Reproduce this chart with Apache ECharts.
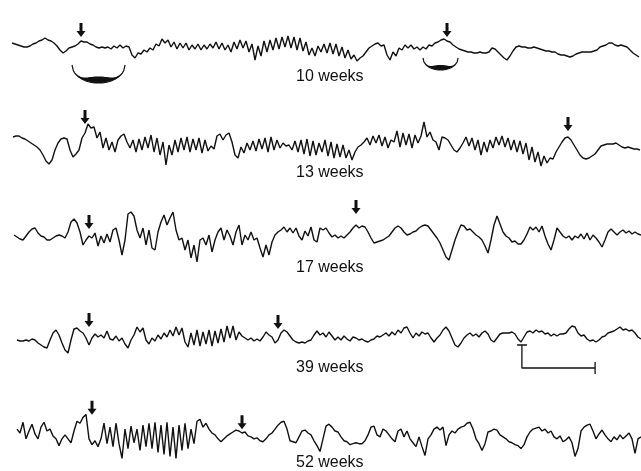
<!DOCTYPE html>
<html><head><meta charset="utf-8">
<script src="https://cdn.jsdelivr.net/npm/echarts@6/dist/echarts.min.js"></script>
<style>html,body{margin:0;padding:0;background:#fff}#c{width:641px;height:471px}</style>
</head><body><div id="c"></div>
<script>
// Trace labels
const labels = ['10 weeks', '13 weeks', '17 weeks', '39 weeks', '52 weeks'];

// EEG amplitudes (arbitrary units, up = positive), sampled at equal time steps
const week10 = [4,3,2,1,0,0,1,3,4,6,7,9,7,6,4,1,-3,-6,-4,-1,0,1,3,6,5,5,3,2,0,-1,0,-1,0,-2,1,-1,2,-1,1,0,-8,-11,-6,-7,-3,-5,-1,-3,3,1,8,4,7,0,5,-2,4,-1,4,-3,2,-2,3,-3,2,-2,3,-1,5,-2,4,-3,2,-5,5,-2,7,-1,6,-5,3,-13,1,-9,6,-5,7,-3,9,-2,10,0,11,-1,10,-3,9,-4,5,-8,-1,-9,1,
 -5,3,-6,4,-7,3,-9,0,-11,-3,-12,-8,-14,-11,-9,-5,-1,1,3,4,1,2,-8,-13,-5,-9,-1,-3,2,-1,2,-2,0,-3,0,-2,2,1,4,5,7,8,6,5,2,0,-2,-3,-4,-5,-5,-6,-6,-5,-6,-6,-5,-1,-2,-5,-8,-11,-13,-9,-4,0,1,0,0,-1,-1,0,-1,-2,-3,-4,-4,-5,-5,-7,-8,-8,-9,-10,-9,-7,-6,-5,-5,-5,-5,-4,-3,0,1,2,4,4,2,1,2,1,0,-3,-6,-8,-10];
const week13 = [3,4,4,2,1,-1,-3,-5,-7,-10,-15,-21,-24,-20,-10,-3,1,2,1,-10,-17,-14,-10,2,7,16,12,13,2,8,-8,2,-10,-2,-12,0,4,6,-2,-8,0,-12,1,-10,3,-8,5,-12,2,-15,-2,-25,-5,-15,0,-12,2,-10,3,-12,1,-10,2,-13,0,-11,-6,-9,4,6,0,5,7,-2,-15,-18,-7,-13,-3,-10,-1,-11,1,-9,2,-12,3,-10,0,-8,-3,-6,-5,-10,-1,-12,0,-14,1,-16,-1,-15,-3,-12,0,-16,-2,-18,-4,-17,-5,-18,-10,-20,-12,-7,-5,-2,2,-5,4,-3,5,-6,3,-8,0,-2,9,-7,7,-5,6,-8,5,-3,4,18,3,8,0,-2,-10,3,2,0,-5,-10,-12,-8,-3,3,-6,2,-10,0,-15,-2,-12,0,-8,3,-5,4,-7,2,-10,0,-12,-1,-14,-3,-20,-7,-22,-12,-26,-16,-23,-18,-19,-12,-7,-2,2,3,0,-5,-10,-15,-18,-19,-18,-16,-14,-10,-6,-5,-4,-4,-4,-3,-5,-7,-8,-7,-8,-9,-9,-10];
const week17 = [-2,-4,-6,-7,-3,1,4,5,0,-3,-4,-7,-7,-5,-3,-2,-3,-5,1,11,14,10,1,-12,-7,-3,-5,0,-13,-3,-10,-1,-9,3,5,-7,-22,-7,19,21,17,3,-5,5,-12,3,-15,-17,1,11,18,8,15,21,3,-7,-5,-17,-7,-25,-12,-29,-7,-5,-12,-2,-19,-7,1,5,-7,3,-3,-12,1,8,-12,-2,-7,1,-7,-5,-15,-24,-12,-22,-9,-2,1,3,6,1,5,0,5,-3,-7,2,-3,6,-7,-9,5,3,5,0,-4,-2,-5,-3,-5,-2,1,5,8,5,7,6,1,-5,-10,-9,-8,-7,-5,-3,1,5,7,5,1,-2,-1,1,2,5,7,8,7,3,-1,-5,-10,-17,-24,-27,-17,-7,1,8,7,3,4,1,-2,-4,-7,-13,-20,-7,8,17,9,1,-3,-5,-9,-8,-11,-11,-7,-1,6,3,6,1,7,-3,-11,-17,-7,5,1,-3,-5,-3,-7,-3,-5,-1,-6,0,-7,-2,-5,-9,-14,-7,1,4,1,-2,1,3,0,2,-1,1,-1,-2];
const week39 = [-2,-3,-3,-2,-3,-1,-2,-5,-7,-9,-10,-2,5,8,3,-5,-12,-15,-2,9,10,7,5,0,-7,0,4,1,3,0,7,-1,-2,2,-3,0,-6,-10,-2,3,11,6,10,-2,-6,0,-3,3,-1,5,1,8,2,11,3,10,-4,-9,5,-7,8,-8,6,-6,8,-8,7,-5,9,-4,12,0,12,-2,6,2,0,-2,0,-3,-1,-3,1,6,3,1,-5,-2,5,8,6,2,-2,-4,-5,-4,-5,-3,-2,3,7,3,5,1,6,2,-2,1,-2,2,-1,-3,1,0,-2,-1,-3,-4,-2,-1,2,1,3,5,2,6,3,8,5,10,11,5,0,5,2,6,4,5,0,-4,0,3,8,11,7,0,-7,-9,-5,0,3,5,2,4,1,5,7,4,-2,-4,0,4,5,5,5,6,4,-1,-4,1,6,7,5,8,6,7,4,5,2,4,2,4,4,5,9,12,11,5,2,3,-1,-3,-2,-4,-2,1,2,5,6,7,9,11,8,9,7,8,5,1,-1];
const week52 = [3,-1,10,-7,1,8,-2,-7,5,10,1,3,-4,-7,-14,-7,-3,-7,-11,1,11,9,15,18,-7,-13,-9,-15,-7,9,-12,5,-15,9,-12,-27,3,-17,6,-11,3,-19,7,-15,9,-17,10,-21,7,-23,10,-25,5,-27,7,-19,9,-17,3,-12,11,13,5,9,3,-1,-3,-7,-10,-7,-4,-2,0,2,1,-1,0,-4,-5,-7,-6,-9,-10,-7,-3,-1,3,7,10,11,3,-9,-10,-11,-5,1,2,-1,-3,-9,-14,-20,-7,6,8,5,1,0,-5,-9,-10,-13,-12,-11,-12,-12,-9,-3,5,6,-3,-5,3,1,-3,-7,-10,1,3,-5,1,-7,-11,-15,-5,-15,-24,-7,-3,3,5,2,5,-14,-3,1,-1,3,5,6,9,10,3,-7,-12,-19,-12,0,1,3,2,-3,-5,-7,-10,-11,-13,-14,-17,-13,-5,0,3,4,5,1,3,-1,1,-5,-7,-4,-10,-8,-5,-11,-25,-17,1,5,7,8,1,-7,-2,2,-3,-7,-10,-5,-8,-3,-7,-4,-1,-7,-22,-7,-5];

// Arrow markers [sample index, amplitude]
const arrows10 = [[23, 17], [145, 17]];
const arrows13 = [[24, 23], [185, 16]];
const arrows17 = [[25, 11], [114, 26]];
const arrows39 = [[24, 18], [87, 16]];
const arrows52 = [[25, 25], [75, 10]];

// Crescents under 10-week trace: [startIdx, endIdx, topAmp, bottomAmp, thickness]
const crescents10 = [[20, 37.7, -18, -36, 6], [137, 148.7, -11, -23, 4.5]];

// Calibration bar on 39-week trace
const calCap = [[166.7, -7], [170, -7]];
const calBar = [[168.3, -7], [168.3, -30], [192.7, -30]];
const calEnd = [[192.7, -24], [192.7, -36]];

const traces = [week10, week13, week17, week39, week52];
const arrowSets = [arrows10, arrows13, arrows17, arrows39, arrows52];
const gridTops = [7, 100, 193, 298, 393];
const gridLefts = [12, 13, 14, 17, 17];
const labelY = [78, 174, 269, 369, 464];

const ink = '#111';
const arrowPath = 'path://M3,0 L6,0 L6,8 L9,8 L4.5,14 L0,8 L3,8 Z';

const grids = [], xAxes = [], yAxes = [], series = [];
traces.forEach((d, k) => {
  grids.push({left: gridLefts[k], top: gridTops[k], width: (d.length - 1) * 3, height: 80});
  xAxes.push({type: 'value', gridIndex: k, min: 0, max: d.length - 1, show: false});
  yAxes.push({type: 'value', gridIndex: k, min: -40, max: 40, show: false});
  series.push({
    type: 'line', xAxisIndex: k, yAxisIndex: k, symbol: 'none', silent: true,
    data: d.map((v, i) => [i, v]),
    lineStyle: {color: ink, width: 1.4},
    markPoint: {
      symbol: arrowPath, symbolSize: [9, 14], silent: true,
      itemStyle: {color: ink}, label: {show: false},
      data: arrowSets[k].map(a => ({coord: a}))
    }
  });
});

series.push({
  type: 'custom', xAxisIndex: 0, yAxisIndex: 0, silent: true,
  data: crescents10,
  renderItem: function (params, api) {
    const x0 = api.value(0), x1 = api.value(1), top = api.value(2), bot = api.value(3), th = api.value(4);
    const pA = api.coord([x0, top]), pB = api.coord([x1, top]), pC = api.coord([(x0 + x1) / 2, bot]);
    const cx = (pA[0] + pB[0]) / 2, hw = (pB[0] - pA[0]) / 2, depth = pC[1] - pA[1];
    const outer = [], inner = [];
    for (let j = 0; j <= 40; j++) {
      const t = -1 + j / 20;
      const s = Math.sqrt(Math.max(0, 1 - t * t));
      outer.push([cx + t * hw, pA[1] + depth * s]);
      inner.push([cx + t * hw, pA[1] + depth * s - th * Math.pow(1 - t * t, 3)]);
    }
    const pts = outer.concat(inner.reverse());
    return {type: 'polygon', shape: {points: pts}, style: {fill: ink, stroke: ink, lineWidth: 1.2}};
  }
});

[calCap, calBar, calEnd].forEach(seg => {
  series.push({type: 'line', xAxisIndex: 3, yAxisIndex: 3, symbol: 'none', silent: true,
    data: seg, lineStyle: {color: ink, width: 1.3}});
});

const graphic = labels.map((t, k) => ({
  type: 'text', left: 296, top: labelY[k] - 9,
  style: {text: t, fill: ink, font: '16px "Liberation Sans", Arial, sans-serif'}
}));

const chart = echarts.init(document.getElementById('c'), null, {renderer: 'canvas'});
chart.setOption({
  backgroundColor: '#fff', animation: false,
  grid: grids, xAxis: xAxes, yAxis: yAxes, series: series, graphic: graphic
});
</script></body></html>
